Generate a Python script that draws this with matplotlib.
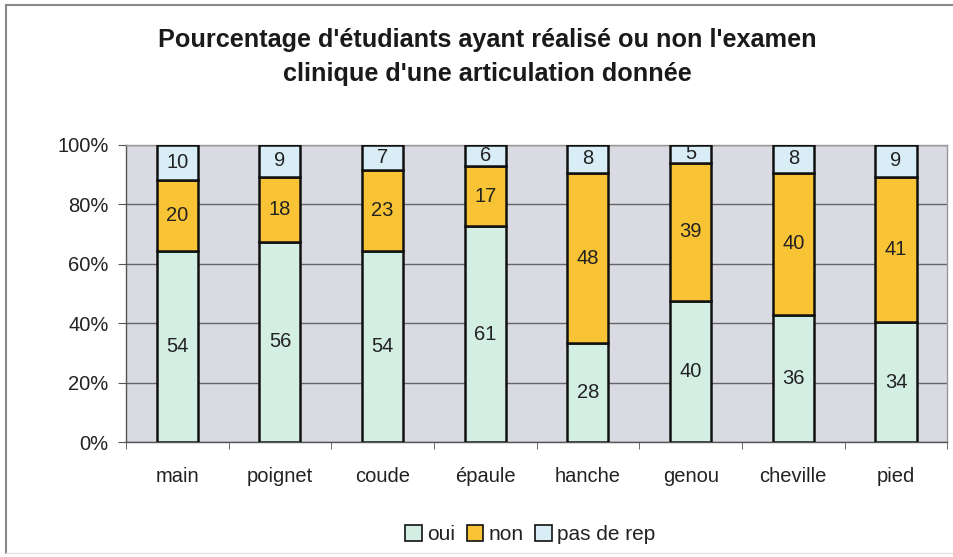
"""
Stacked 100% bar chart: students who did / did not examine each joint.
"""

import numpy as np
import matplotlib.pyplot as plt
from matplotlib.lines import Line2D
from matplotlib.ticker import FuncFormatter

plt.rcParams.update({
    'font.family': ['Liberation Sans', 'DejaVu Sans'],
    'font.size': 14.5,
    'text.color': '#222222',
    'xtick.color': '#555555',
    'ytick.color': '#555555',
    'xtick.labelcolor': '#222222',
    'ytick.labelcolor': '#222222',
})

# ── Data ─────────────────────────────────────────────
articulations = ["main", "poignet", "coude", "épaule", "hanche", "genou", "cheville", "pied"]
oui = [54, 56, 54, 61, 28, 40, 36, 34]
non = [20, 18, 23, 17, 48, 39, 40, 41]
pas_de_rep = [10, 9, 7, 6, 8, 5, 8, 9]

series_names = ["oui", "non", "pas de rep"]
series_colors = ["#d3eee2", "#f8c435", "#d8edf6"]


def main():
    counts = np.array([oui, non, pas_de_rep], dtype=float)
    pct = counts / counts.sum(axis=0) * 100

    fig = plt.figure(figsize=(9.54, 5.57), dpi=100)
    ax = fig.add_axes([0.132, 0.206, 0.861, 0.534])
    ax.set_facecolor("#d9dae2")

    x = np.arange(len(articulations))
    bottom = np.zeros(len(articulations))
    handles = []
    for vals, raw, name, color in zip(pct, counts, series_names, series_colors):
        bars = ax.bar(x, vals, width=0.4, bottom=bottom, color=color,
                      edgecolor="#111111", linewidth=1.8, label=name, zorder=3)
        handles.append(bars)
        for xi, b, v, r in zip(x, bottom, vals, raw):
            ax.text(xi, b + v / 2, f"{int(r)}", ha="center", va="center",
                    fontsize=14.5, color="#222222", zorder=4)
        bottom += vals

    ax.set_xlim(-0.5, len(articulations) - 0.5)
    ax.set_ylim(0, 100)
    ax.set_yticks(range(0, 101, 20))
    ax.yaxis.set_major_formatter(FuncFormatter(lambda v, _: f"{int(v)}%"))
    ax.set_xticks(x)
    ax.set_xticklabels(articulations)
    ax.set_xticks(np.arange(-0.5, len(articulations)), minor=True)
    ax.tick_params(axis="x", which="major", length=0, pad=18)
    ax.tick_params(axis="x", which="minor", length=5)
    ax.tick_params(axis="y", length=6, pad=6.5)

    ax.grid(axis="y", color="#666666", linewidth=1.0, zorder=1)
    ax.set_axisbelow(True)
    for side in ("top", "right"):
        ax.spines[side].set_color("#999999")
        ax.spines[side].set_linewidth(1.0)
    for side in ("left", "bottom"):
        ax.spines[side].set_color("#555555")
        ax.spines[side].set_linewidth(1.0)

    fig.text(0.511, 0.898, "Pourcentage d'étudiants ayant réalisé ou non l'examen\n"
             "clinique d'une articulation donnée",
             ha="center", va="center", fontsize=18.2, fontweight="bold",
             linespacing=1.5, color="#1a1a1a")

    legend = fig.legend(handles=handles, labels=series_names, loc="center",
                        bbox_to_anchor=(0.556, 0.04), ncol=3, frameon=False,
                        handlelength=0.8, handleheight=0.8, handletextpad=0.25,
                        columnspacing=0.55, fontsize=15)
    for h in legend.legend_handles:
        h.set_linewidth(1.2)

    # chart frame: left and top edges, faint bottom edge
    fig.add_artist(Line2D([0.006, 0.006], [0.008, 0.991], transform=fig.transFigure,
                          color="#8a8a8a", linewidth=1.5))
    fig.add_artist(Line2D([0.006, 1.0], [0.991, 0.991], transform=fig.transFigure,
                          color="#8a8a8a", linewidth=1.5))
    fig.add_artist(Line2D([0.006, 1.0], [0.008, 0.008], transform=fig.transFigure,
                          color="#e4e4e4", linewidth=1.0))

    fig.savefig("out.png", dpi=100, facecolor="white")


if __name__ == "__main__":
    main()
